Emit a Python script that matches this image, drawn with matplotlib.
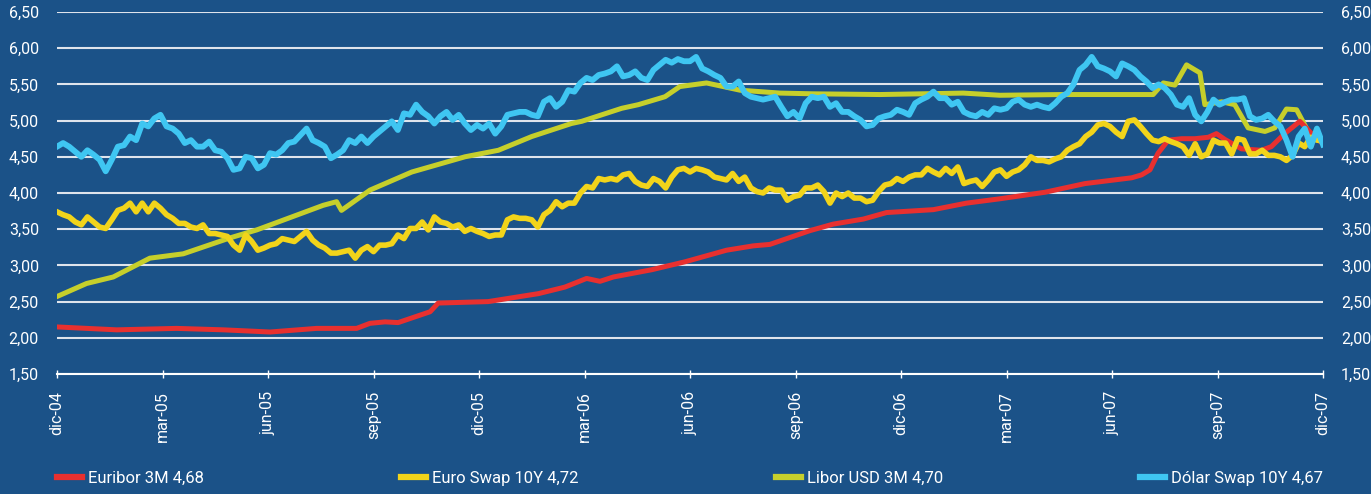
import matplotlib
matplotlib.use("Agg")
import matplotlib.pyplot as plt
from matplotlib.lines import Line2D
import numpy as np

plt.rcParams['font.family'] = ['Roboto', 'DejaVu Sans']

# etiquetas del eje x (trimestres, dic-04 .. dic-07)
quarter_labels = ["dic-04", "mar-05", "jun-05", "sep-05", "dic-05", "mar-06", "jun-06",
                  "sep-06", "dic-06", "mar-07", "jun-07", "sep-07", "dic-07"]
y_ticks = [1.5, 2.0, 2.5, 3.0, 3.5, 4.0, 4.5, 5.0, 5.5, 6.0, 6.5]

# Libor USD 3M (meses desde dic-04, valor)
libor_months = [0, 0.84, 1.60, 2.64, 3.59, 4.92, 5.68, 7.57, 7.95, 8.09, 8.90, 10.09, 11.60,
                12.55, 13.50, 14.63, 14.92, 16.06, 16.53, 17.29, 17.71, 17.86, 18.47, 19.42,
                20.56, 21.50, 23.40, 25.77, 26.81, 28.57, 31.17, 31.46, 31.79, 32.12, 32.50,
                32.64, 33.12, 33.49, 33.87, 34.35, 34.63, 34.96, 35.25, 35.58, 36.0]
libor_vals = [2.57, 2.75, 2.84, 3.10, 3.16, 3.38, 3.49, 3.83, 3.88, 3.76, 4.04, 4.29, 4.50,
              4.59, 4.78, 4.96, 4.99, 5.17, 5.22, 5.33, 5.47, 5.48, 5.52, 5.42,
              5.38, 5.37, 5.36, 5.38, 5.35, 5.36, 5.36, 5.52, 5.49, 5.77, 5.66,
              5.22, 5.26, 5.22, 4.90, 4.85, 4.90, 5.16, 5.15, 4.85, 4.70]

# Euribor 3M
euribor_months = [0, 1.70, 3.40, 4.73, 6.06, 7.38, 8.52, 8.90, 9.33, 9.70, 10.61, 10.84, 12.26,
                  13.69, 14.44, 15.06, 15.44, 15.82, 16.91, 17.86, 19.04, 19.80, 20.27, 21.41,
                  22.07, 22.93, 23.59, 24.92, 25.86, 26.81, 28.09, 29.23, 30.56, 30.84, 31.08,
                  31.31, 31.60, 31.98, 32.36, 32.74, 32.97, 33.21, 33.68, 34.25, 34.53, 34.91,
                  35.34, 35.58, 35.77, 36.0]
euribor_vals = [2.15, 2.11, 2.13, 2.11, 2.08, 2.13, 2.13, 2.20, 2.22, 2.21, 2.36, 2.48, 2.50,
                2.61, 2.70, 2.82, 2.78, 2.84, 2.94, 3.05, 3.21, 3.27, 3.29, 3.48,
                3.57, 3.64, 3.73, 3.77, 3.86, 3.92, 4.01, 4.13, 4.21, 4.25, 4.32,
                4.55, 4.73, 4.75, 4.75, 4.77, 4.82, 4.74, 4.61, 4.59, 4.64, 4.82,
                4.99, 4.87, 4.77, 4.68]

# Euro Swap 10Y (serie diaria leída aprox., espaciado uniforme)
euro_swap = [3.74, 3.70, 3.67, 3.60, 3.56, 3.67, 3.60, 3.53, 3.51, 3.63, 3.76, 3.79, 3.86,
             3.74, 3.86, 3.74, 3.86, 3.79, 3.70, 3.65, 3.58, 3.58, 3.53, 3.51, 3.56, 3.44,
             3.44, 3.42, 3.40, 3.28, 3.21, 3.42, 3.33, 3.21, 3.24, 3.28, 3.30, 3.37, 3.35,
             3.33, 3.40, 3.47, 3.35, 3.28, 3.24, 3.17, 3.17, 3.19, 3.21, 3.10, 3.21, 3.26,
             3.19, 3.28, 3.28, 3.30, 3.42, 3.37, 3.51, 3.51, 3.60, 3.49, 3.67, 3.60, 3.58,
             3.53, 3.56, 3.47, 3.51, 3.47, 3.44, 3.40, 3.42, 3.42, 3.63, 3.67, 3.65, 3.65,
             3.63, 3.53, 3.70, 3.76, 3.88, 3.81, 3.86, 3.86, 4.00, 4.09, 4.07, 4.20, 4.18,
             4.20, 4.18, 4.25, 4.27, 4.16, 4.11, 4.09, 4.20, 4.16, 4.07, 4.22, 4.32, 4.34,
             4.29, 4.34, 4.32, 4.29, 4.22, 4.20, 4.18, 4.27, 4.16, 4.22, 4.07, 4.02, 4.00,
             4.07, 4.04, 4.04, 3.90, 3.95, 3.97, 4.07, 4.07, 4.11, 4.02, 3.86, 4.00, 3.95,
             4.00, 3.93, 3.93, 3.88, 3.90, 4.02, 4.11, 4.13, 4.20, 4.16, 4.22, 4.25, 4.25,
             4.34, 4.29, 4.25, 4.34, 4.27, 4.36, 4.13, 4.16, 4.18, 4.09, 4.18, 4.29, 4.32,
             4.23, 4.29, 4.32, 4.39, 4.50, 4.45, 4.45, 4.43, 4.47, 4.50, 4.59, 4.64, 4.68,
             4.78, 4.84, 4.94, 4.96, 4.92, 4.84, 4.78, 4.99, 5.01, 4.92, 4.82, 4.73, 4.71,
             4.75, 4.71, 4.68, 4.64, 4.52, 4.68, 4.50, 4.54, 4.73, 4.69, 4.69, 4.54, 4.75,
             4.73, 4.54, 4.54, 4.59, 4.52, 4.52, 4.50, 4.45, 4.52, 4.69, 4.64, 4.77, 4.73,
             4.72]

# Dólar Swap 10Y
dolar_swap = [4.64, 4.69, 4.64, 4.57, 4.50, 4.59, 4.53, 4.46, 4.30, 4.46, 4.64, 4.66, 4.78,
              4.73, 4.96, 4.92, 5.03, 5.08, 4.92, 4.89, 4.82, 4.69, 4.73, 4.64, 4.64, 4.71,
              4.59, 4.57, 4.48, 4.32, 4.34, 4.50, 4.48, 4.34, 4.39, 4.55, 4.53, 4.59, 4.69,
              4.71, 4.80, 4.89, 4.73, 4.69, 4.64, 4.48, 4.53, 4.59, 4.73, 4.69, 4.78,
              4.69, 4.78, 4.85, 4.92, 4.99, 4.87, 5.10, 5.08, 5.22, 5.12, 5.06, 4.96, 5.06,
              5.12, 5.01, 5.08, 4.96, 4.87, 4.94, 4.89, 4.96, 4.82, 4.92, 5.08, 5.10, 5.12,
              5.12, 5.08, 5.06, 5.26, 5.31, 5.19, 5.26, 5.42, 5.40, 5.52, 5.59, 5.56, 5.63,
              5.65, 5.68, 5.75, 5.61, 5.63, 5.68, 5.59, 5.56, 5.70, 5.77, 5.84, 5.80, 5.85,
              5.82, 5.82, 5.88, 5.72, 5.68, 5.63, 5.59, 5.47, 5.47, 5.54, 5.38, 5.33, 5.31,
              5.29, 5.31, 5.33, 5.19, 5.06, 5.12, 5.03, 5.24, 5.33, 5.31, 5.33, 5.19, 5.24,
              5.12, 5.12, 5.06, 5.01, 4.92, 4.94, 5.03, 5.06, 5.08, 5.15, 5.12, 5.08, 5.24,
              5.29, 5.33, 5.40, 5.31, 5.31, 5.22, 5.26, 5.12, 5.08, 5.06, 5.12, 5.08, 5.17,
              5.15, 5.17, 5.26, 5.29, 5.22, 5.19, 5.22, 5.19, 5.17, 5.24, 5.33, 5.38, 5.50,
              5.70, 5.77, 5.88, 5.75, 5.72, 5.68, 5.61, 5.79, 5.75, 5.70, 5.61, 5.54, 5.45,
              5.50, 5.45, 5.36, 5.22, 5.19, 5.31, 5.08, 4.99, 5.12, 5.29, 5.22, 5.26, 5.29,
              5.29, 5.31, 5.06, 5.01, 5.03, 5.08, 4.99, 4.92, 4.73, 4.50, 4.78, 4.89, 4.64,
              4.89, 4.67]

bg = '#1b5288'
c_euribor = '#e8302f'
c_euroswap = '#f2d41a'
c_libor = '#c6cf2b'
c_dolar = '#3fc6f2'

fig = plt.figure(figsize=(13.71, 4.94), dpi=100, facecolor=bg)
ax = fig.add_axes([57 / 1371, 1 - 374 / 494, 1266 / 1371, 362 / 494], facecolor=bg)

x_euro = np.linspace(0, 36, len(euro_swap))
x_dolar = np.linspace(0, 36, len(dolar_swap))

ax.plot(libor_months, libor_vals, color=c_libor, lw=3.6, zorder=3)
ax.plot(euribor_months, euribor_vals, color=c_euribor, lw=3.6, zorder=4)
ax.plot(x_euro, euro_swap, color=c_euroswap, lw=4.0, zorder=5)
ax.plot(x_dolar, dolar_swap, color=c_dolar, lw=4.2, zorder=6)

ax.set_xlim(0, 36)
ax.set_ylim(1.5, 6.5)
ax.set_yticks(y_ticks)
ax.set_yticklabels([f"{v:.2f}".replace('.', ',') for v in y_ticks])
ax.set_xticks(np.arange(0, 37, 3))
ax.set_xticklabels(quarter_labels, rotation=90)

ax.grid(axis='y', color='#dfe4ec', lw=1.5, zorder=1)
for side in ['top', 'left', 'right']:
    ax.spines[side].set_visible(False)
ax.spines['bottom'].set_color('white')
ax.spines['bottom'].set_linewidth(1.5)

ax.tick_params(axis='y', length=0, labelleft=True, labelright=True, pad=13,
               colors='white', labelsize=11.5)
ax.tick_params(axis='x', direction='inout', length=6, width=1, color='white',
               labelcolor='white', labelsize=11.5, pad=9)

handles = [Line2D([], [], color=c_euribor, lw=4.5),
           Line2D([], [], color=c_euroswap, lw=4.5),
           Line2D([], [], color=c_libor, lw=4.5),
           Line2D([], [], color=c_dolar, lw=4.5)]
labels = ["Euribor 3M 4,68", "Euro Swap 10Y 4,72", "Libor USD 3M 4,70", "Dólar Swap 10Y 4,67"]
leg = fig.legend(handles, labels, loc='center', ncol=4, mode='expand',
                 bbox_to_anchor=(57 / 1371, 0, 1266 / 1371, 32 / 494),
                 frameon=False, borderaxespad=0, borderpad=0, handlelength=1.5,
                 handletextpad=0.35, fontsize=12)
for t in leg.get_texts():
    t.set_color('white')

fig.savefig("out.png", dpi=100, facecolor=bg)
